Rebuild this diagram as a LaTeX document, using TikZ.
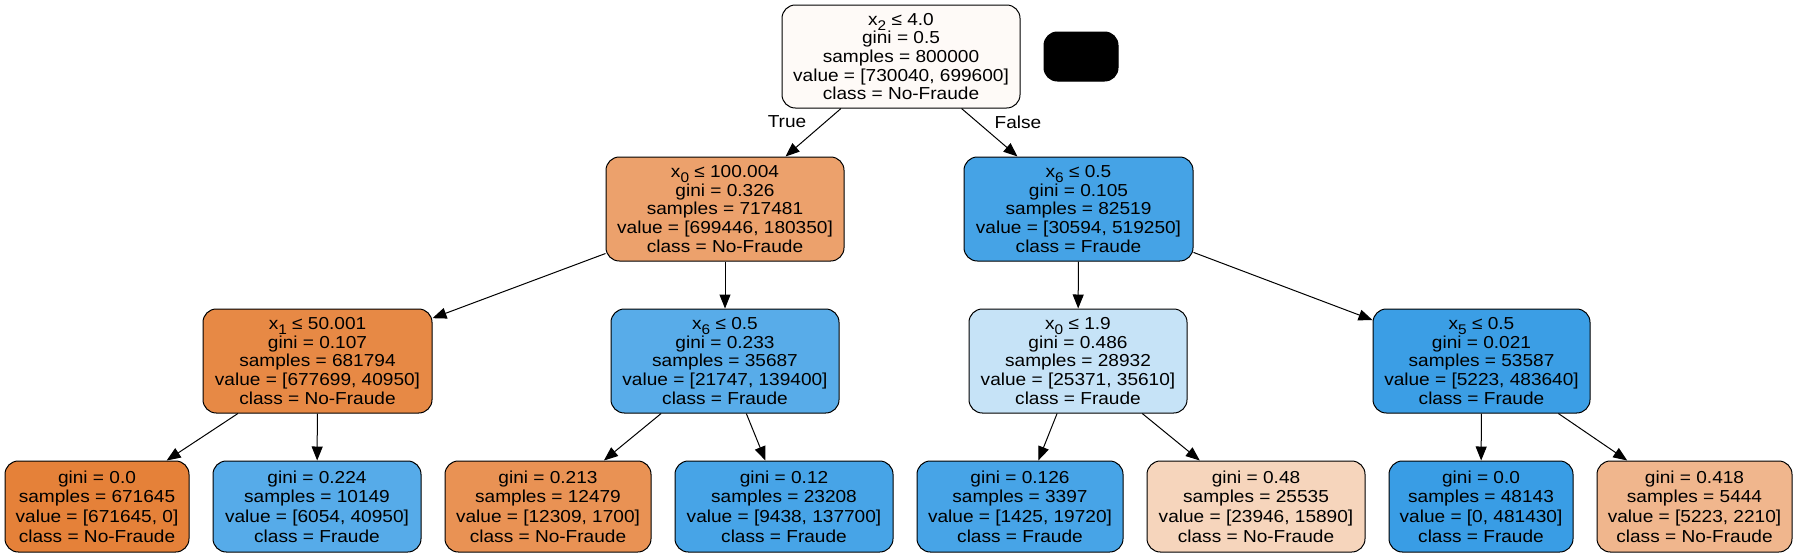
\documentclass[tikz,border=0pt]{standalone}
\usepackage{fontspec}
\setmainfont{Liberation Sans}[FakeStretch=1.1]
\usetikzlibrary{arrows.meta}
\definecolor{croot}{RGB}{254,250,247}
\definecolor{cla}{RGB}{236,161,108}
\definecolor{clb}{RGB}{69,163,230}
\definecolor{cta}{RGB}{231,137,69}
\definecolor{ctb}{RGB}{88,172,233}
\definecolor{ctc}{RGB}{198,227,247}
\definecolor{ctd}{RGB}{59,158,229}
\definecolor{cfa}{RGB}{229,129,57}
\definecolor{cfb}{RGB}{86,171,233}
\definecolor{cfc}{RGB}{233,146,84}
\definecolor{cfd}{RGB}{71,164,231}
\definecolor{cfe}{RGB}{71,164,231}
\definecolor{cff}{RGB}{246,213,188}
\definecolor{cfg}{RGB}{57,157,229}
\definecolor{cfh}{RGB}{240,182,141}
\newcommand\xsub[1]{x\raisebox{-3.5pt}[0pt][0pt]{\fontsize{10.5}{10.5}\selectfont #1}}
\begin{document}
\begin{tikzpicture}[x=0.75pt,y=-0.75pt,
  box/.style={draw=black, line width=0.75pt, rounded corners=10pt, inner sep=0pt,
    align=center, font=\fontsize{13}{13.9}\selectfont},
  leaf/.style={box, font=\fontsize{13}{14.8}\selectfont},
  sz/.style 2 args={minimum width=#1*0.75pt, minimum height=#2*0.75pt},
  edge/.style={-{Triangle[length=10.5pt,width=8.25pt]}, line width=0.75pt},
  lab/.style={font=\fontsize{13}{13.9}\selectfont, inner sep=0pt}]
\fill[white] (0,0) rectangle (1797,557);
\useasboundingbox (0,0) rectangle (1797,557);

\node[box, sz={238}{103}, fill=croot] (root) at (901,56.5)
  {\xsub{2} ≤ 4.0\\gini = 0.5\\samples = 800000\\value = [730040, 699600]\\class = No-Fraude};
\node[box, sz={74}{49}, fill=black] (blk) at (1081,56.5) {};

\node[box, sz={238}{104}, fill=cla] (la) at (725,209)
  {\xsub{0} ≤ 100.004\\gini = 0.326\\samples = 717481\\value = [699446, 180350]\\class = No-Fraude};
\node[box, sz={229}{104}, fill=clb] (lb) at (1078.5,209)
  {\xsub{6} ≤ 0.5\\gini = 0.105\\samples = 82519\\value = [30594, 519250]\\class = Fraude};

\node[box, sz={229}{104}, fill=cta] (ta) at (317.5,361)
  {\xsub{1} ≤ 50.001\\gini = 0.107\\samples = 681794\\value = [677699, 40950]\\class = No-Fraude};
\node[box, sz={228}{104}, fill=ctb] (tb) at (725,361)
  {\xsub{6} ≤ 0.5\\gini = 0.233\\samples = 35687\\value = [21747, 139400]\\class = Fraude};
\node[box, sz={218}{104}, fill=ctc] (tc) at (1078,361)
  {\xsub{0} ≤ 1.9\\gini = 0.486\\samples = 28932\\value = [25371, 35610]\\class = Fraude};
\node[box, sz={217}{104}, fill=ctd] (td) at (1481.5,361)
  {\xsub{5} ≤ 0.5\\gini = 0.021\\samples = 53587\\value = [5223, 483640]\\class = Fraude};

\node[leaf, sz={184}{91}, fill=cfa] (fa) at (97,506.5)
  {gini = 0.0\\samples = 671645\\value = [671645, 0]\\class = No-Fraude};
\node[leaf, sz={208}{91}, fill=cfb] (fb) at (317,506.5)
  {gini = 0.224\\samples = 10149\\value = [6054, 40950]\\class = Fraude};
\node[leaf, sz={206}{91}, fill=cfc] (fc) at (548,506.5)
  {gini = 0.213\\samples = 12479\\value = [12309, 1700]\\class = No-Fraude};
\node[leaf, sz={218}{91}, fill=cfd] (fd) at (784,506.5)
  {gini = 0.12\\samples = 23208\\value = [9438, 137700]\\class = Fraude};
\node[leaf, sz={206}{91}, fill=cfe] (fe) at (1020,506.5)
  {gini = 0.126\\samples = 3397\\value = [1425, 19720]\\class = Fraude};
\node[leaf, sz={218}{91}, fill=cff] (ff) at (1256,506.5)
  {gini = 0.48\\samples = 25535\\value = [23946, 15890]\\class = No-Fraude};
\node[leaf, sz={184}{91}, fill=cfg] (fg) at (1481,506.5)
  {gini = 0.0\\samples = 48143\\value = [0, 481430]\\class = Fraude};
\node[leaf, sz={195}{91}, fill=cfh] (fh) at (1694.5,506.5)
  {gini = 0.418\\samples = 5444\\value = [5223, 2210]\\class = No-Fraude};

\draw[edge] (root) -- (la);
\draw[edge] (root) -- (lb);
\draw[edge] (la) -- (ta);
\draw[edge] (la) -- (tb);
\draw[edge] (lb) -- (tc);
\draw[edge] (lb) -- (td);
\draw[edge] (ta) -- (fa);
\draw[edge] (ta) -- (fb);
\draw[edge] (tb) -- (fc);
\draw[edge] (tb) -- (fd);
\draw[edge] (tc) -- (fe);
\draw[edge] (tc) -- (ff);
\draw[edge] (td) -- (fg);
\draw[edge] (td) -- (fh);

\node[lab] (ltrue) at (787,122) {True};
\node[lab] (lfalse) at (1018,122) {False};
\end{tikzpicture}
\end{document}
